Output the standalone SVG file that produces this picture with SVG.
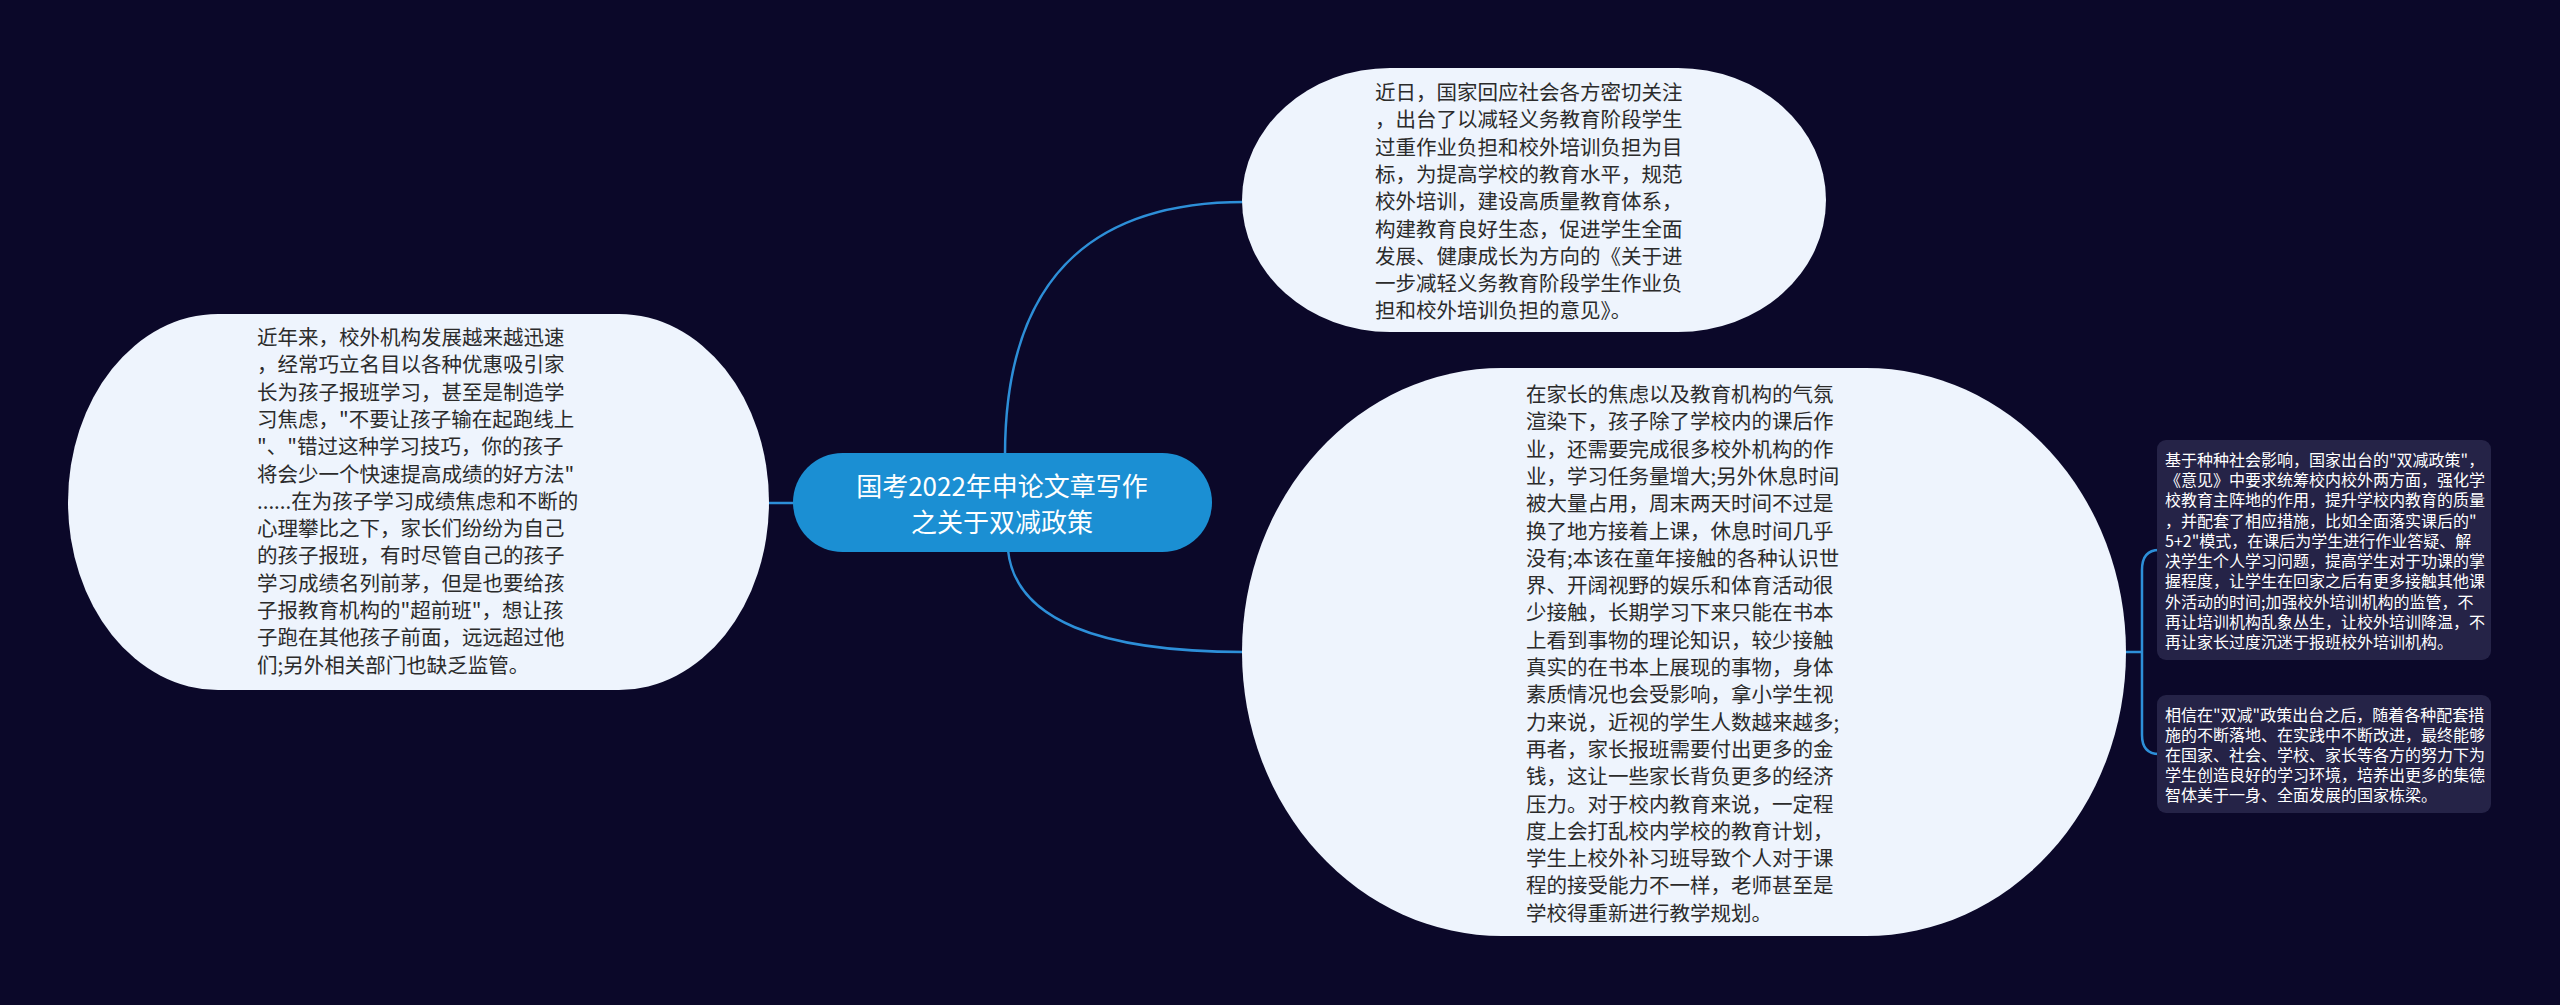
<svg xmlns="http://www.w3.org/2000/svg" width="2560" height="1005" viewBox="0 0 2560 1005">
<style>
.bg{fill:#0b0829}
.conn{fill:none;stroke:#2d8fd8;stroke-width:2.5}
.big{fill:#eef4fd}
.dark{font-family:"Noto Sans CJK SC","Noto Sans",sans-serif;font-size:20.5px;fill:#2b2b2b}
.root{fill:#1b8fd3}
.roottext{font-family:"Noto Sans CJK SC","Noto Sans",sans-serif;font-size:26px;fill:#ffffff;text-anchor:middle}
.small{fill:#252347}
.light{font-family:"Noto Sans CJK SC","Noto Sans",sans-serif;font-size:16px;fill:#ffffff}
</style>
<rect class="bg" x="0" y="0" width="2560" height="1005"/>
<g id="connectors">
<path class="conn" d="M769 503 H795"/>
<path class="conn" d="M1005 455 C1005 280 1090 202 1244 202"/>
<path class="conn" d="M1008 550 C1015 620 1100 652 1244 652"/>
<path class="conn" d="M2124 652 H2142 M2142 652 V570 Q2142 550 2159 550 M2142 652 V735 Q2142 754 2159 754"/>
</g>
<g id="root">
<rect class="root" x="793" y="453" width="419" height="99" rx="49.5" ry="49.5"/>
<text class="roottext"><tspan x="1002" y="496">国考2022年申论文章写作</tspan><tspan x="1002" y="532">之关于双减政策</tspan></text>
</g>
<g id="node-left">
<rect class="big" x="68" y="314" width="701" height="376" rx="150" ry="188"/>
<text class="dark">
<tspan x="257" y="345">近年来，校外机构发展越来越迅速</tspan>
<tspan x="257" y="372.3">，经常巧立名目以各种优惠吸引家</tspan>
<tspan x="257" y="399.6">长为孩子报班学习，甚至是制造学</tspan>
<tspan x="257" y="426.9">习焦虑，"不要让孩子输在起跑线上</tspan>
<tspan x="257" y="454.2">"、"错过这种学习技巧，你的孩子</tspan>
<tspan x="257" y="481.5">将会少一个快速提高成绩的好方法"</tspan>
<tspan x="257" y="508.8">......在为孩子学习成绩焦虑和不断的</tspan>
<tspan x="257" y="536.1">心理攀比之下，家长们纷纷为自己</tspan>
<tspan x="257" y="563.4">的孩子报班，有时尽管自己的孩子</tspan>
<tspan x="257" y="590.7">学习成绩名列前茅，但是也要给孩</tspan>
<tspan x="257" y="618">子报教育机构的"超前班"，想让孩</tspan>
<tspan x="257" y="645.3">子跑在其他孩子前面，远远超过他</tspan>
<tspan x="257" y="672.6">们;另外相关部门也缺乏监管。</tspan>
</text>
</g>
<g id="node-top">
<rect class="big" x="1242" y="68" width="584" height="264" rx="148" ry="132"/>
<text class="dark">
<tspan x="1375" y="100">近日，国家回应社会各方密切关注</tspan>
<tspan x="1375" y="127.3">，出台了以减轻义务教育阶段学生</tspan>
<tspan x="1375" y="154.6">过重作业负担和校外培训负担为目</tspan>
<tspan x="1375" y="181.9">标，为提高学校的教育水平，规范</tspan>
<tspan x="1375" y="209.2">校外培训，建设高质量教育体系，</tspan>
<tspan x="1375" y="236.5">构建教育良好生态，促进学生全面</tspan>
<tspan x="1375" y="263.8">发展、健康成长为方向的《关于进</tspan>
<tspan x="1375" y="291.1">一步减轻义务教育阶段学生作业负</tspan>
<tspan x="1375" y="318.4">担和校外培训负担的意见》。</tspan>
</text>
</g>
<g id="node-big">
<rect class="big" x="1242" y="368" width="884" height="568" rx="260" ry="284"/>
<text class="dark">
<tspan x="1526" y="402">在家长的焦虑以及教育机构的气氛</tspan>
<tspan x="1526" y="429.3">渲染下，孩子除了学校内的课后作</tspan>
<tspan x="1526" y="456.6">业，还需要完成很多校外机构的作</tspan>
<tspan x="1526" y="483.9">业，学习任务量增大;另外休息时间</tspan>
<tspan x="1526" y="511.2">被大量占用，周末两天时间不过是</tspan>
<tspan x="1526" y="538.5">换了地方接着上课，休息时间几乎</tspan>
<tspan x="1526" y="565.8">没有;本该在童年接触的各种认识世</tspan>
<tspan x="1526" y="593.1">界、开阔视野的娱乐和体育活动很</tspan>
<tspan x="1526" y="620.4">少接触，长期学习下来只能在书本</tspan>
<tspan x="1526" y="647.7">上看到事物的理论知识，较少接触</tspan>
<tspan x="1526" y="675">真实的在书本上展现的事物，身体</tspan>
<tspan x="1526" y="702.3">素质情况也会受影响，拿小学生视</tspan>
<tspan x="1526" y="729.6">力来说，近视的学生人数越来越多;</tspan>
<tspan x="1526" y="756.9">再者，家长报班需要付出更多的金</tspan>
<tspan x="1526" y="784.2">钱，这让一些家长背负更多的经济</tspan>
<tspan x="1526" y="811.5">压力。对于校内教育来说，一定程</tspan>
<tspan x="1526" y="838.8">度上会打乱校内学校的教育计划，</tspan>
<tspan x="1526" y="866.1">学生上校外补习班导致个人对于课</tspan>
<tspan x="1526" y="893.4">程的接受能力不一样，老师甚至是</tspan>
<tspan x="1526" y="920.7">学校得重新进行教学规划。</tspan>
</text>
</g>
<g id="node-a">
<rect class="small" x="2157" y="440" width="334" height="220" rx="9" ry="9"/>
<text class="light">
<tspan x="2165" y="465.6">基于种种社会影响，国家出台的"双减政策"，</tspan>
<tspan x="2165" y="485.9">《意见》中要求统筹校内校外两方面，强化学</tspan>
<tspan x="2165" y="506.2">校教育主阵地的作用，提升学校内教育的质量</tspan>
<tspan x="2165" y="526.5">，并配套了相应措施，比如全面落实课后的"</tspan>
<tspan x="2165" y="546.8">5+2"模式，在课后为学生进行作业答疑、解</tspan>
<tspan x="2165" y="567.1">决学生个人学习问题，提高学生对于功课的掌</tspan>
<tspan x="2165" y="587.4">握程度，让学生在回家之后有更多接触其他课</tspan>
<tspan x="2165" y="607.7">外活动的时间;加强校外培训机构的监管，不</tspan>
<tspan x="2165" y="628">再让培训机构乱象丛生，让校外培训降温，不</tspan>
<tspan x="2165" y="648.3">再让家长过度沉迷于报班校外培训机构。</tspan>
</text>
</g>
<g id="node-b">
<rect class="small" x="2157" y="695" width="334" height="118" rx="9" ry="9"/>
<text class="light">
<tspan x="2165" y="720.6">相信在"双减"政策出台之后，随着各种配套措</tspan>
<tspan x="2165" y="740.6">施的不断落地、在实践中不断改进，最终能够</tspan>
<tspan x="2165" y="760.6">在国家、社会、学校、家长等各方的努力下为</tspan>
<tspan x="2165" y="780.6">学生创造良好的学习环境，培养出更多的集德</tspan>
<tspan x="2165" y="800.6">智体美于一身、全面发展的国家栋梁。</tspan>
</text>
</g>
</svg>
